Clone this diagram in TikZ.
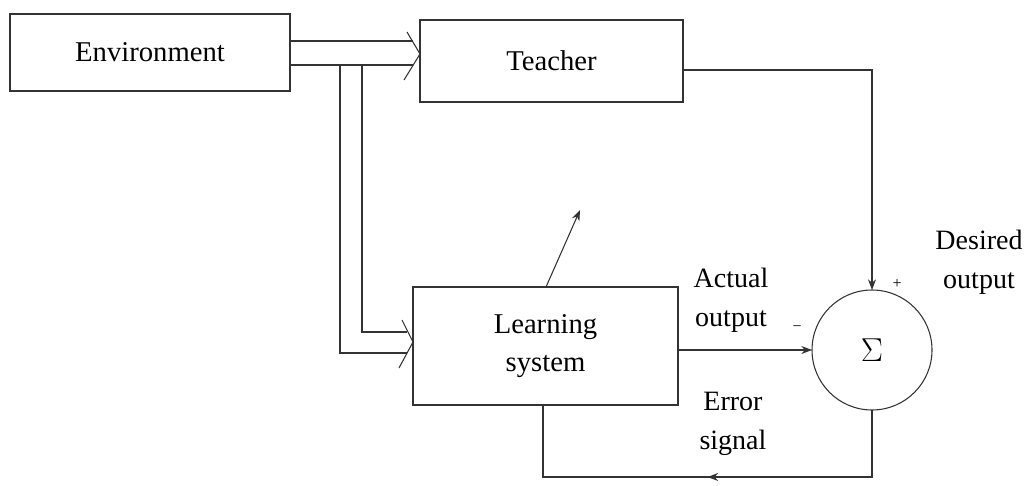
\documentclass[tikz,border=0pt]{standalone}
\usepackage{fontspec}
\setmainfont{Liberation Serif}
\usetikzlibrary{arrows.meta,calc}
\begin{document}
\begin{tikzpicture}[x=0.75pt,y=-0.75pt,
  line/.style={draw=black!80,line width=0.8pt},
  blockbox/.style={line,rectangle,inner sep=0pt,outer sep=0pt,align=center,
    font=\fontsize{21.5}{28}\selectfont},
  label/.style={align=center,font=\fontsize{21}{29}\selectfont,inner sep=0pt},
  sign/.style={font=\fontsize{12}{12}\selectfont,inner sep=0pt},
  tip/.style={-{Stealth[length=8pt,width=6pt]}},
  chevron/.style={draw=black!80,line width=0.8pt}]
  \useasboundingbox (0,0) rectangle (1027,485);

  % blocks
  \node[blockbox,minimum width=210pt,minimum height=57.75pt] (env) at (150,52.5) {Environment};
  \node[blockbox,minimum width=197.25pt,minimum height=61.5pt] (teacher) at (551.5,61) {Teacher};
  \node[blockbox,minimum width=198.75pt,minimum height=88.5pt] (learn) at (545.5,346) {Learning\\system};
  \node[line,circle,minimum size=90pt,inner sep=0pt,outer sep=0pt] (sum) at (872,350) {\fontsize{32}{32}\selectfont$\Sigma$};

  % double line from the environment into the teacher
  \coordinate (e1) at ($(env.east)+(0,-11.5)$);
  \coordinate (e2) at ($(env.east)+(0,12.5)$);
  \coordinate (t1) at (e1 -| teacher.west);
  \coordinate (t2) at (e2 -| teacher.west);
  \coordinate (ttip) at (420,54);
  \draw[line] (e1) -- ($(t1)+(-7,0)$);
  \draw[line] (e2) -- ($(t2)+(-7,0)$);
  \draw[chevron] (407,32) -- (ttip) -- (404,80);

  % branch of the double line down into the learning system
  \coordinate (b1) at (340,65);
  \coordinate (b2) at (362,65);
  \coordinate (l1) at (413,353);
  \coordinate (l2) at (413,332);
  \coordinate (ltip) at (413,342);
  \draw[line] (b1) |- ($(l1)+(-6,0)$);
  \draw[line] (b2) |- ($(l2)+(-6,0)$);
  \draw[chevron] (402,320) -- (ltip) -- (399,368);

  % adjustment arrow from the learning system
  \coordinate (adj) at (580,210);
  \draw[line,tip] (learn.north -| 546,0) -- (adj);

  % teacher output to the summing junction
  \coordinate (tc) at (sum.north |- 0,70);
  \draw[line,tip] (teacher.east |- tc) -- (tc) -- (sum.north);

  % actual output to the summing junction
  \draw[line,tip] (learn.east |- sum.west) -- (sum.west);

  % error signal fed back to the learning system
  \coordinate (fbR) at (872,477);
  \coordinate (fbL) at (543,477);
  \draw[line] (sum.south) -- (fbR) -- (fbL) -- (fbL |- learn.south);
  \draw[line,tip] (fbR) -- ($(fbR)!0.5!(fbL)$);

  % labels
  \node[label] (act) at (731,300) {Actual\\output};
  \node[label] (des) at (979,262) {Desired\\output};
  \node[label] (err) at (733,424) {Error\\signal};
  \node[sign] (plus) at (897,284) {+};
  \node[sign] (minus) at (797,329) {−};
\end{tikzpicture}
\end{document}
